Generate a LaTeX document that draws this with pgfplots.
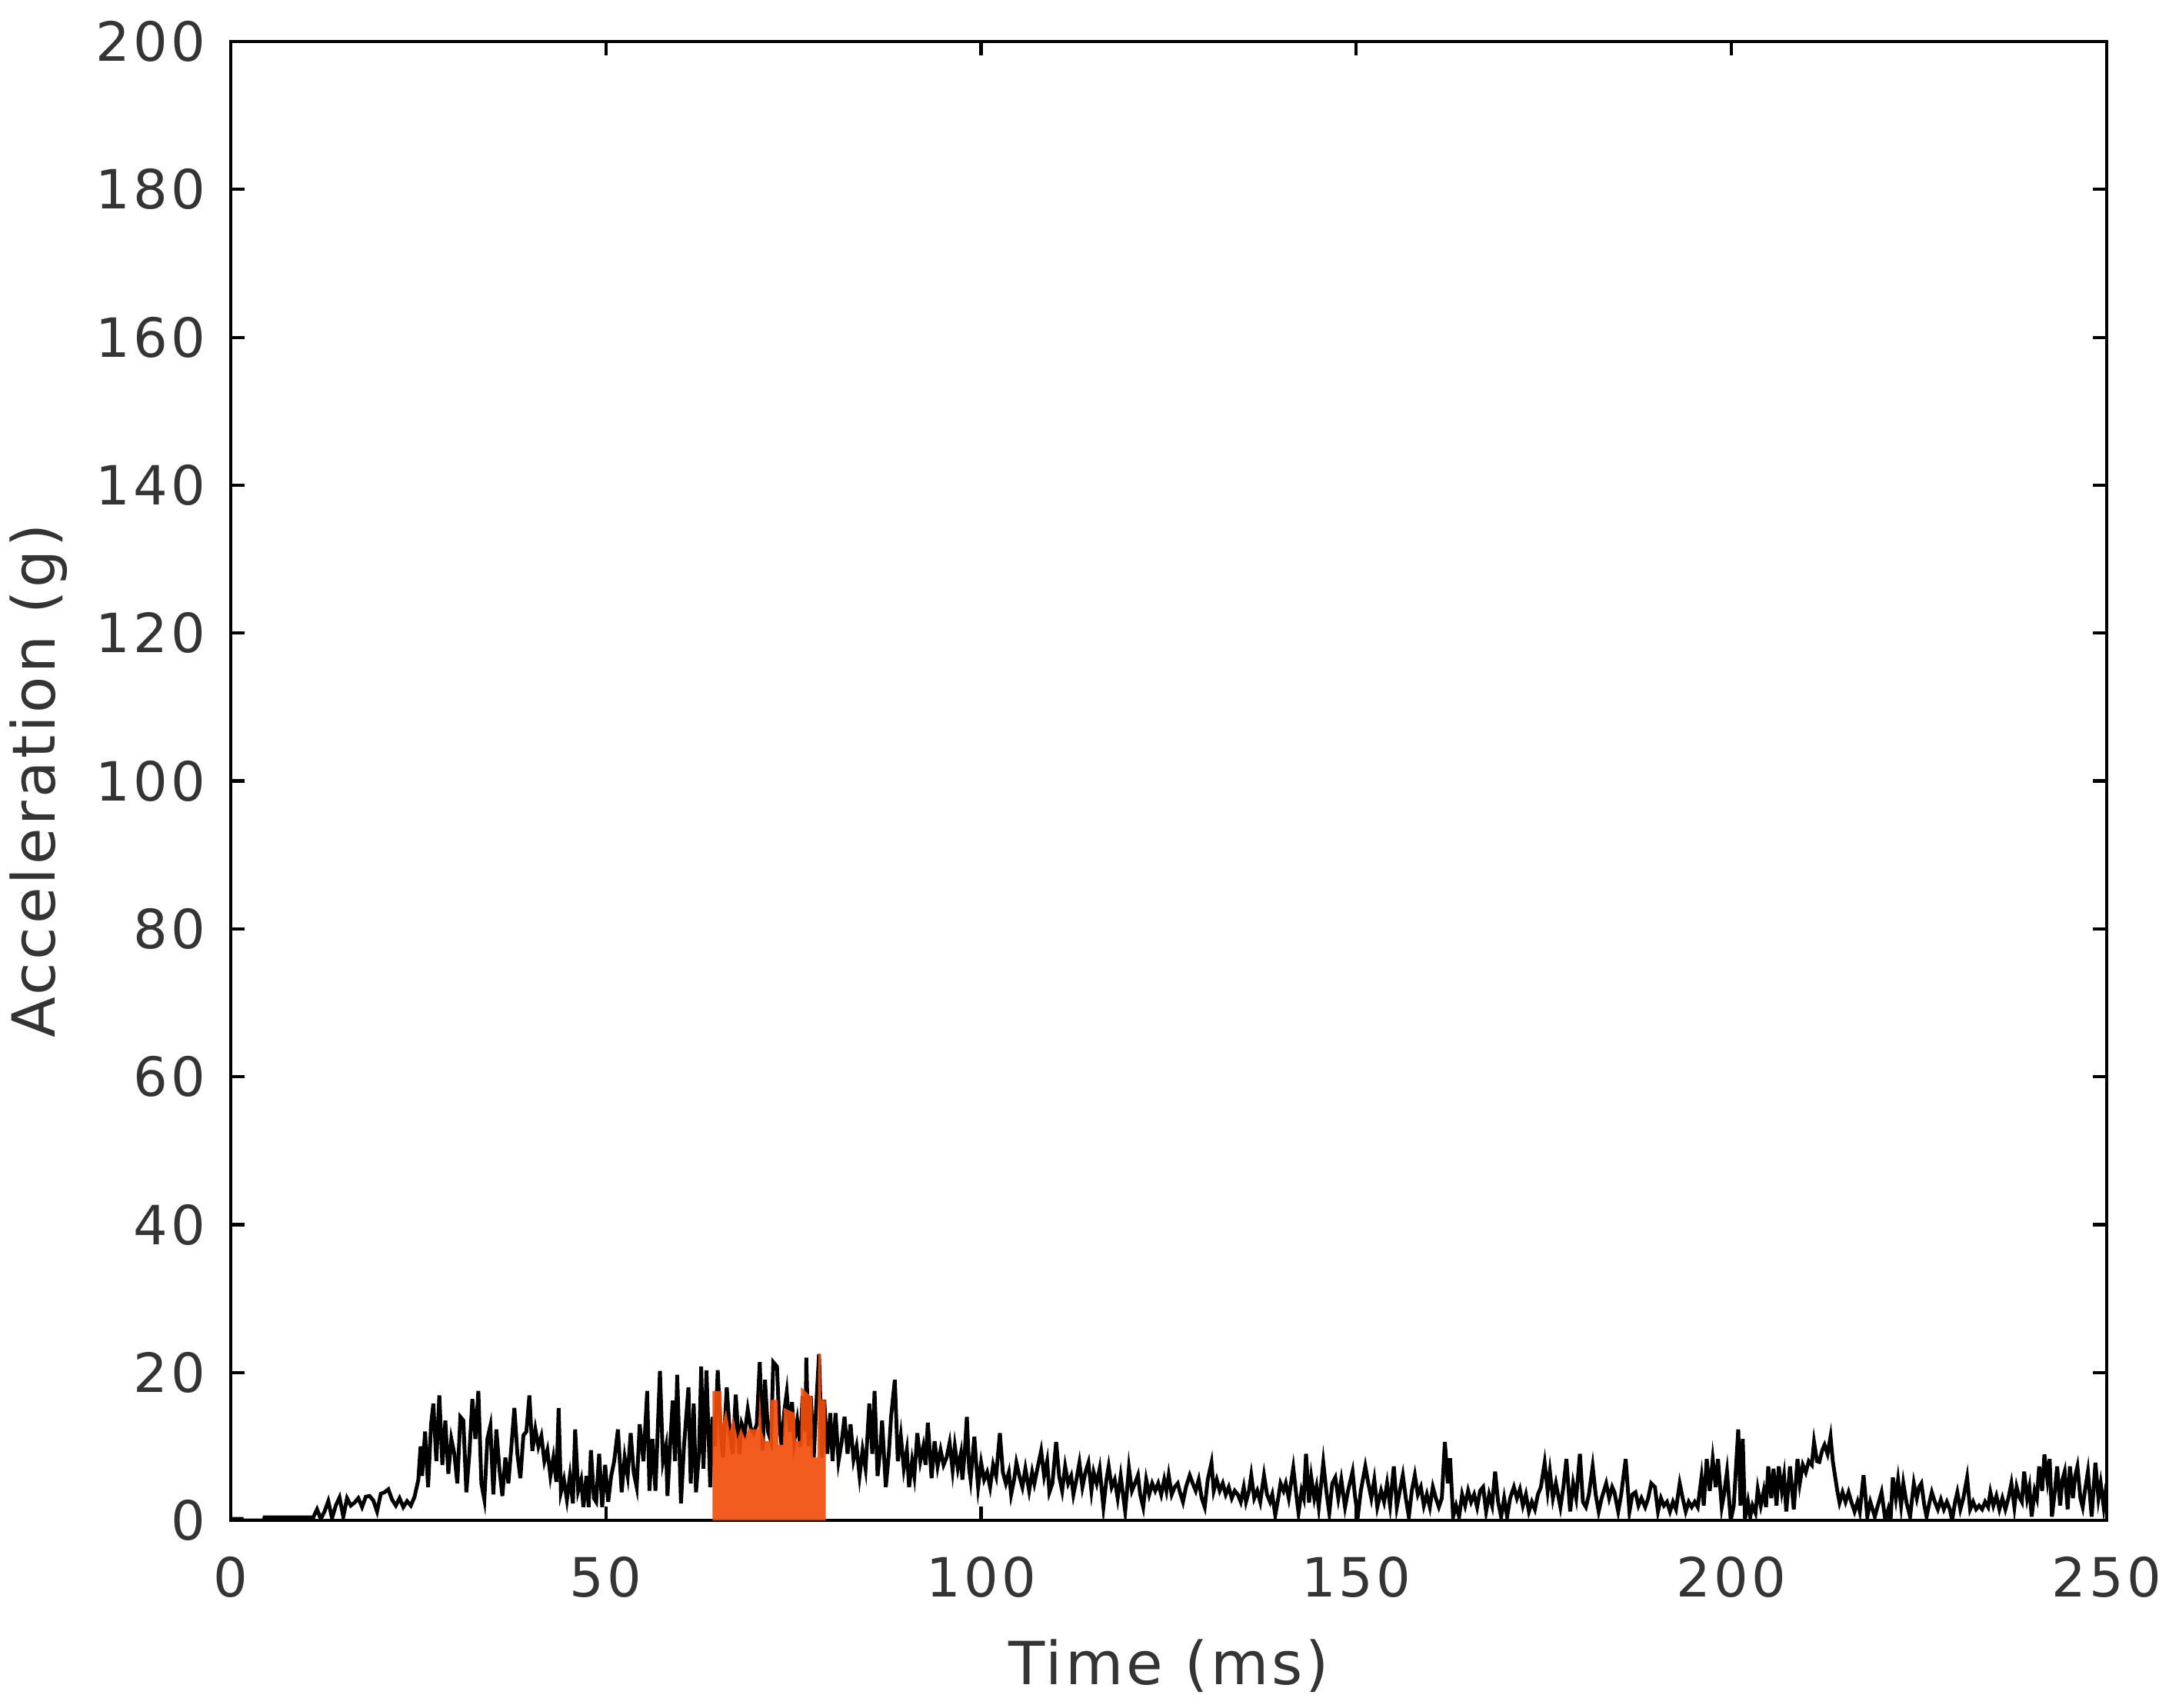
\documentclass[border=0pt]{standalone}
\usepackage{fontspec}
\setmainfont{DejaVu Sans}
\newfontfamily\tickfont{DejaVu Sans}[LetterSpace=6]
\newfontfamily\labelfont{DejaVu Sans}[LetterSpace=5]
\usepackage{pgfplots}
\pgfplotsset{compat=1.18}
\definecolor{fillorange}{RGB}{242,78,12}
\definecolor{txtgray}{RGB}{52,52,52}

\begin{document}
\begin{tikzpicture}
\begin{axis}[
    at={(0,0)}, anchor=south west,
    scale only axis,
    width=12.195cm, height=9.615cm,
    xmin=0, xmax=250, ymin=0, ymax=200,
    xtick={0,50,...,250}, ytick={0,20,...,200},
    tick align=inside, major tick length=0.09cm,
    tick style={black, line width=0.6pt},
    axis line style={black, line width=0.7pt},
    /pgf/number format/assume math mode=true,
    tick label style={font=\tickfont\fontsize{10}{12}\selectfont, text=txtgray, inner sep=0pt},
    xticklabel shift=0.23cm, yticklabel shift=0.155cm,
    xlabel={Time (ms)}, ylabel={Acceleration (g)},
    every axis x label/.style={at={(axis description cs:0.5,-0.1108)}, anchor=base,
        font=\labelfont\fontsize{11}{13}\selectfont, text=txtgray},
    every axis y label/.style={at={(axis description cs:-0.0935,0.5)}, anchor=base, rotate=90,
        font=\labelfont\fontsize{11}{13}\selectfont, text=txtgray},
]
% measured signal
\addplot[black, line width=0.7pt] coordinates {
(0,0.2)(1.5,0.2)(1.6,0)(4.4,0)(4.5,0.4)(11.0,0.4)
(11.5,1.5)(12.0,0.2)(12.5,1.2)(13.0,2.6)(13.5,0.3)(14.0,2.0)(14.5,3.1)(15.0,0.5)(15.5,3.0)(16.0,2.0)(16.5,2.4)(17.0,3.0)(17.5,1.8)(18.0,3.2)
(18.5,3.3)(19.0,2.7)(19.5,1.2)(20.0,3.6)(20.5,3.8)(21.0,4.2)(21.5,2.8)(22.0,2.0)(22.5,3.0)(23.0,1.8)(23.5,2.6)(24.0,2.0)(24.5,3.2)(25.0,5.5)(25.3,10.0)
(25.5,6.0)(25.9,12.0)(26.3,4.5)(26.7,13.0)(27.0,15.8)(27.4,8.0)(27.8,16.9)(28.2,7.5)(28.6,13.5)(29.0,6.3)(29.4,11.0)(29.8,9.0)(30.2,5.0)(30.6,14.0)
(31.0,13.5)(31.4,3.8)(31.8,9.0)(32.2,16.4)(32.6,11.0)(33.0,17.5)(33.4,5.0)(33.8,2.8)(34.2,11.0)(34.6,12.8)(35.0,3.5)
(35.4,12.3)(35.8,7.0)(36.2,3.3)(36.6,8.5)(37.0,5.0)(37.4,10.0)(37.8,15.2)(38.2,9.0)(38.6,5.7)(39.0,11.5)(39.4,12.0)(39.8,16.9)(40.2,9.4)(40.6,12.3)
(41.0,10.0)(41.4,11.4)(41.8,8.0)(42.2,9.5)(42.6,6.0)(43.0,8.5)(43.4,5.2)(43.7,15.2)(44.0,3.8)(44.4,5.5)(44.8,2.8)(45.2,6.0)(45.6,2.3)(45.9,12.3)
(46.3,4.0)(46.7,5.5)(47.0,1.8)(47.4,6.0)(47.7,1.8)(48.0,9.5)(48.4,3.0)(48.7,2.5)(49.1,9.0)(49.5,1.8)(49.9,7.5)(50.3,2.5)(50.7,6.0)(51.1,8.0)
(51.6,12.3)(52.1,3.8)(52.5,8.5)(52.9,6.0)(53.3,11.8)(53.7,6.5)(54.1,4.5)(54.5,13.0)(55.0,8.0)(55.5,17.5)(55.8,4.0)(56.2,11.0)(56.6,4.0)(57.2,20.2)
(57.6,8.0)(58.0,10.0)(58.2,3.3)(58.6,11.0)(58.9,16.2)(59.2,8.0)(59.5,19.7)(60.0,2.3)(60.4,10.0)(61.0,18.0)(61.3,5.0)(61.7,15.8)(62.0,3.8)(62.4,9.0)
(62.7,20.8)(63.0,7.0)(63.4,20.3)(63.9,4.5)(64.2,14.0)(64.5,10.0)(64.9,20.3)(65.3,12.0)(65.6,8.5)(66.1,18.0)(66.5,12.0)(66.9,9.0)(67.3,17.0)(67.8,9.0)
(68.1,13.0)(68.5,11.8)(68.9,15.0)(69.3,12.5)(69.7,11.8)(70.1,13.0)(70.5,21.4)(70.9,9.5)
(71.2,19.0)(71.6,12.0)(72.0,10.7)(72.3,21.4)(72.8,20.8)(73.1,13.2)(73.4,10.2)(73.8,15.0)(74.1,17.3)(74.5,12.0)(74.8,16.0)(75.1,10.7)(75.5,13.5)
(75.9,10.0)(76.2,16.8)(76.6,12.0)(76.7,22.0)(77.0,10.0)(77.3,16.8)(77.7,8.5)(78.0,15.0)(78.4,22.5)(78.8,8.5)(79.1,16.3)(79.5,9.0)(79.9,14.5)
(80.2,8.0)(80.6,14.5)(81.0,8.0)(81.4,10.5)(81.8,14.0)(82.2,9.0)(82.6,13.0)(83.0,8.2)(83.4,10.0)(83.8,6.0)(84.2,9.5)(84.6,7.0)(85.1,15.8)(85.5,9.0)
(85.8,17.5)(86.2,6.0)(86.6,10.0)(86.8,13.5)(87.3,4.5)(87.7,9.0)(88.0,14.0)(88.5,19.0)(88.9,8.0)(89.3,11.4)(89.7,7.0)(90.1,9.5)(90.4,4.5)(90.8,8.0)
(91.1,6.0)(91.5,11.8)(91.9,8.0)(92.3,10.0)(92.6,7.5)(92.9,13.2)(93.4,5.7)(93.8,10.7)(94.2,7.3)(94.6,9.5)(95.0,7.5)(95.4,8.5)(95.8,10.5)(96.2,6.8)
(96.5,10.0)(96.9,7.0)(97.3,9.0)(97.5,5.5)(97.8,9.0)(98.1,14.0)(98.4,7.0)(98.6,5.5)(99.1,11.3)(99.4,7.0)(99.6,4.5)(100.0,7.8)(100.4,5.5)(100.8,6.5)
(101.2,4.5)(101.6,7.5)(102.0,6.0)(102.5,11.8)(102.9,6.5)(103.3,5.0)(103.7,6.5)(104.0,3.5)(104.4,5.5)(104.7,7.8)(105.1,6.0)(105.5,4.5)(105.9,7.0)
(106.4,4.0)(106.8,6.5)
(107.1,5.0)(107.5,7.0)(108.0,9.4)(108.4,6.0)(108.8,8.0)(109.1,3.8)(109.5,5.0)(110.0,10.6)(110.4,6.0)(110.8,4.0)(111.2,7.3)(111.6,5.0)(112.0,6.0)
(112.3,3.5)(112.7,5.5)(113.1,7.8)(113.5,4.5)(113.9,6.5)(114.3,7.8)(114.7,4.0)(115.0,6.5)(115.4,5.0)(115.8,7.0)(116.3,1.8)(116.7,5.5)(117.0,7.3)
(117.4,4.5)(117.8,5.5)(118.2,3.0)(118.6,6.0)(119.2,1.2)(119.7,7.1)(120.1,4.0)(120.5,5.0)(120.9,6.1)(121.2,3.5)(121.6,1.8)(122.0,5.5)(122.4,3.5)
(122.8,5.0)(123.2,4.0)(123.6,5.0)(124.0,3.5)(124.4,5.5)(124.7,4.0)(125.0,6.1)(125.4,3.5)(125.8,4.5)(126.2,5.0)(126.5,3.8)(126.9,2.5)(127.3,4.5)
(127.8,6.1)(128.2,5.0)(128.6,4.0)(129.0,5.5)(129.4,3.0)(129.8,1.8)(130.2,5.5)(130.7,7.8)(131.0,4.0)(131.4,5.5)(131.8,4.0)(132.2,5.0)(132.6,3.5)
(133.0,4.5)(133.4,3.0)(133.8,4.0)(134.2,3.5)(134.6,2.5)(135.0,4.5)(135.3,2.5)(135.7,4.0)(136.0,6.1)(136.4,3.0)(136.8,4.0)(137.2,2.5)(137.7,6.1)
(138.1,3.5)(138.5,2.5)(138.8,3.5)(139.2,0.7)(139.6,3.0)(139.9,5.0)(140.3,4.0)(140.6,5.0)(141.0,3.0)(141.6,7.1)(142.0,3.5)(142.3,1.0)(142.7,4.0)
(143.0,3.0)(143.3,9.0)(143.7,2.4)(144.0,5.8)(144.4,3.0)(144.7,4.5)(145.0,1.8)(145.6,7.8)(146.0,4.0)(146.4,1.0)(146.8,5.0)(147.2,5.8)(147.6,3.0)
(148.0,5.5)(148.5,1.8)(148.9,4.0)(149.5,6.6)(149.8,3.5)(150.2,0.5)(150.6,4.0)(151.2,7.3)(151.6,5.0)(152.0,3.0)(152.4,5.5)(152.8,1.8)(153.3,4.0)
(153.7,2.5)(154.1,5.0)(154.5,2.0)(155.0,7.3)(155.4,1.8)(155.8,4.0)(156.2,6.1)(156.6,3.0)(157.0,0.5)(157.4,4.0)(157.8,6.1)(158.2,3.5)(158.6,4.5)
(159.0,2.0)(159.4,3.5)(159.8,1.8)(160.2,4.5)(160.6,3.0)(161.0,1.8)(161.4,3.0)(161.8,10.6)(162.2,5.0)(162.5,8.4)(162.9,0.5)(163.3,2.0)(163.7,0.5)
(164.1,3.5)(164.5,2.0)(164.9,4.0)(165.3,2.5)(165.7,3.5)(166.1,1.8)(166.5,4.0)(166.9,4.5)(167.3,1.2)(167.7,3.5)(168.1,2.0)(168.5,6.6)(168.9,2.5)
(169.3,0.5)(169.7,3.0)(170.1,0.5)(170.5,3.0)(171.0,4.5)(171.4,3.0)(171.8,4.2)(172.2,2.0)(172.6,3.5)(173.0,1.2)(173.4,2.5)(173.8,1.5)(174.2,3.5)
(174.6,4.5)(175.1,7.8)(175.5,4.0)(175.8,6.6)(176.2,3.0)(176.6,5.0)(177.2,1.8)(177.6,4.5)(178.0,8.3)(178.5,1.2)
(178.9,5.0)(179.3,3.0)(179.8,9.0)(180.2,2.5)(180.6,1.8)(181.0,3.5)(181.5,7.3)(181.9,3.5)(182.3,1.2)(182.7,3.0)(183.3,5.0)(183.7,3.0)(184.1,4.5)
(184.4,3.8)(184.9,1.2)(185.3,3.5)(185.9,8.3)(186.4,1.2)(186.8,3.5)(187.2,3.8)(187.6,2.0)(188.0,3.0)(188.5,1.8)(188.9,3.0)(189.3,5.0)(189.8,4.5)
(190.2,1.2)(190.6,3.0)(191.0,2.0)(191.4,2.5)(191.8,1.2)(192.2,2.5)(192.6,1.5)(193.1,5.0)(193.5,3.0)(193.9,1.2)(194.3,2.5)(194.7,1.8)(195.1,2.5)
(195.5,1.8)(196.0,5.8)(196.3,2.0)(196.7,8.3)(197.1,4.0)(197.5,8.3)(197.9,4.5)(198.2,8.3)(198.7,1.8)(199.0,3.5)(199.4,6.6)(199.9,0.0)(200.3,2.0)
(200.9,12.3)(201.2,2.0)(201.5,11.0)(201.8,0.2)(202.2,2.5)(202.5,0.5)(202.8,2.0)(203.2,1.0)(203.5,4.2)(203.9,2.0)(204.3,4.0)(204.6,1.8)(204.9,7.3)
(205.3,3.0)(205.6,7.0)(206.0,2.0)(206.3,7.3)(206.7,4.0)(207.0,6.0)(207.3,1.2)(207.8,7.3)(208.3,1.5)(208.8,8.3)(209.1,5.0)(209.5,7.5)(209.9,6.5)
(210.3,8.0)(210.7,7.5)(211.0,10.6)(211.4,8.0)(211.7,7.9)(212.1,9.5)(212.4,10.2)(212.8,9.0)(213.2,11.3)(213.5,8.0)(213.8,6.0)(214.1,4.0)(214.4,2.4)
(214.8,3.8)(215.2,2.5)(215.6,3.8)(216.0,2.4)(216.4,1.2)(216.8,2.5)(217.1,1.2)(217.6,6.1)(218.1,0.5)(218.5,2.5)(219.1,0.5)(219.5,2.0)(220.0,3.8)
(220.5,0.0)(220.9,1.5)(221.2,0.0)(221.5,5.8)(221.9,3.0)(222.2,5.5)(222.6,2.0)(222.9,5.0)(223.3,2.5)(223.8,0.5)(224.3,5.0)(224.7,3.0)(225.0,4.5)
(225.3,5.0)(225.7,2.0)(226.0,0.5)(226.4,2.5)(226.7,3.8)(227.1,2.5)(227.5,1.5)(227.9,2.8)(228.3,1.5)(228.7,2.5)(229.1,1.5)(229.4,0.0)(229.8,2.5)
(230.1,3.8)(230.5,1.5)(230.9,3.0)(231.4,5.8)(231.8,1.5)(232.2,2.5)(232.6,1.5)(233.0,2.0)(233.4,1.5)(233.8,2.5)(234.2,1.8)(234.5,3.8)(234.9,2.0)
(235.3,3.3)(235.7,1.5)(236.1,3.0)(236.5,1.5)(236.9,3.0)(237.3,5.0)(237.7,1.8)(238.0,4.5)(238.3,3.3)(238.7,2.5)(239.0,6.6)(239.4,3.0)(239.7,4.5)
(240.0,0.5)(240.4,4.0)(240.7,3.0)(241.0,7.3)(241.4,4.0)(241.7,8.9)(242.1,5.5)(242.4,8.3)(242.7,0.5)(243.1,4.0)(243.4,7.3)(243.8,2.0)(244.1,5.5)
(244.4,6.6)(244.8,1.5)(245.1,7.3)(245.5,3.0)(245.8,6.0)(246.1,7.3)(246.5,3.0)(246.8,1.8)(247.1,4.0)(247.5,6.6)(248.0,0.5)(248.5,7.8)(248.9,3.0)
(249.2,5.0)(249.6,1.8)(250.0,5.0)
};
% highlighted window
\addplot[draw=none, fill=fillorange, fill opacity=0.92] coordinates {
(64.2,0)(64.2,17.5)(65.4,17.5)(65.5,13.0)(66.0,15.0)(66.5,12.0)(67.0,14.0)(67.5,11.0)(68.0,12.5)(68.5,11.0)(69.0,12.5)(69.5,12.3)
(70.3,12.3)(70.5,17.5)(70.8,12.0)(71.2,10.7)(71.8,10.7)(71.9,16.3)(72.9,16.3)(73.0,10.2)(73.6,10.2)(73.7,15.2)(75.2,14.5)(75.3,10.7)
(75.9,10.7)(76.0,18.0)(77.5,16.6)(77.6,8.5)(78.2,8.5)(78.3,22.5)(78.6,22.5)(78.7,16.3)(79.3,16.3)(79.3,0)
} \closedcycle;
\end{axis}
\pgfresetboundingbox
\useasboundingbox (-1.5cm,-1.215cm) rectangle (12.6cm,9.885cm);
\end{tikzpicture}
\end{document}
